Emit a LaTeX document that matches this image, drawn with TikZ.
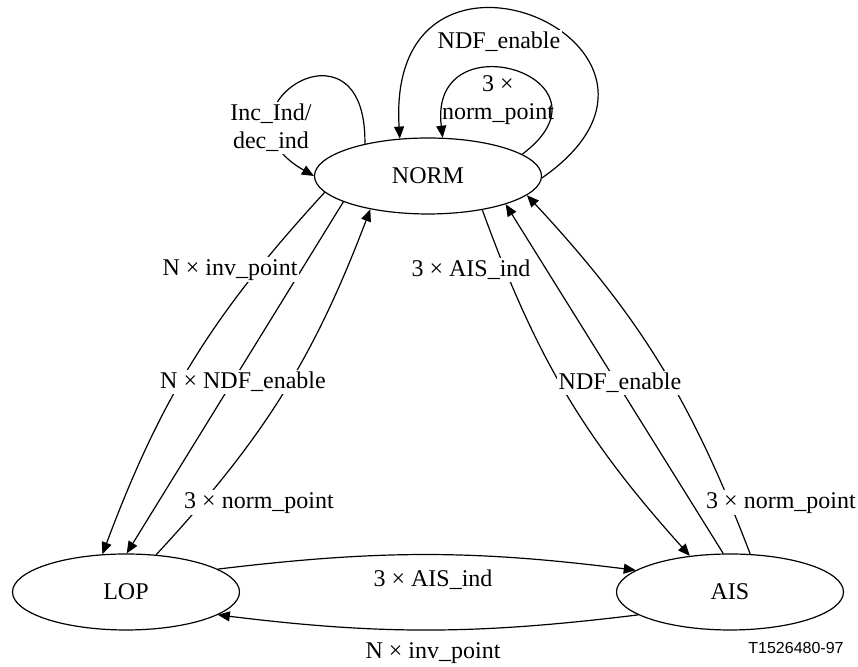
\documentclass[tikz,border=0pt]{standalone}
\usepackage{fontspec}
\setmainfont{Liberation Serif}
\newfontfamily\figfont{Liberation Sans}
\usepackage{tikz}
\usetikzlibrary{arrows.meta,shapes.geometric}
\tikzset{
  state/.style={ellipse,draw,line width=.6pt,inner sep=0pt,minimum width=113.5pt,
                minimum height=38pt,font=\fontsize{12}{14}\selectfont},
  arrow/.style={-{Triangle[length=6pt,width=5pt]},line width=.6pt},
  cond/.style={fill=white,inner sep=1pt,align=center,font=\fontsize{12}{14}\selectfont}
}
\begin{document}
\begin{tikzpicture}[x=.5pt,y=.5pt]
  \useasboundingbox (0,0) rectangle (858,667);
  % The three states.
  \node[state] (norm) at (428,491) {NORM};
  \node[state] (lop) at (126,75) {LOP};
  \node[state] (ais) at (730,75) {AIS};

  % NORM <-> LOP
  \draw[arrow] (norm.189) to[bend right=11] (lop.122);
  \draw[arrow] (norm.197) -- (lop.89);
  \draw[arrow] (lop.51) to[bend right=11] (norm.210);
  % NORM <-> AIS
  \draw[arrow] (norm.328) to[bend right=11] (ais.138);
  \draw[arrow] (ais.100) -- (norm.340);
  \draw[arrow] (ais.62) to[bend right=11] (norm.349);
  % LOP <-> AIS
  \draw[arrow] (lop.14) to[bend left=7] (ais.167);
  \draw[arrow] (ais.194) to[bend left=7] (lop.346);

  % Self loops on NORM.
  \draw[arrow] (norm.153) .. controls (367,662) and (202,555) .. (norm.180);
  \draw[arrow] (norm.359) .. controls (730,620) and (385,770) .. (norm.127);
  \draw[arrow] (norm.13) .. controls (625,590) and (428,650) .. (norm.69);

  % Conditions, set over the lines.
  \node[cond] (cInc) at (271,539) {Inc\_Ind/\\dec\_ind};
  \node[cond] (cNdfLoop) at (499,625) {NDF\_enable};
  \node[cond,fill=none] (cNormLoop) at (498,567) {3 ×\\norm\_point};
  \node[cond] (cInvL) at (230,397) {N × inv\_point};
  \node[cond] (cNdfL) at (243,285) {N × NDF\_enable};
  \node[cond] (cNormL) at (259,164) {3 × norm\_point};
  \node[cond] (cAisR) at (471,397) {3 × AIS\_ind};
  \node[cond] (cNdfR) at (620,284) {NDF\_enable};
  \node[cond] (cNormR) at (781,164) {3 × norm\_point};
  \node[cond] (cAisB) at (433,87) {3 × AIS\_ind};
  \node[cond] (cInvB) at (433,14) {N × inv\_point};

  \node[font=\figfont\fontsize{8}{9}\selectfont] (figno) at (796,19) {T1526480-97};
\end{tikzpicture}
\end{document}
